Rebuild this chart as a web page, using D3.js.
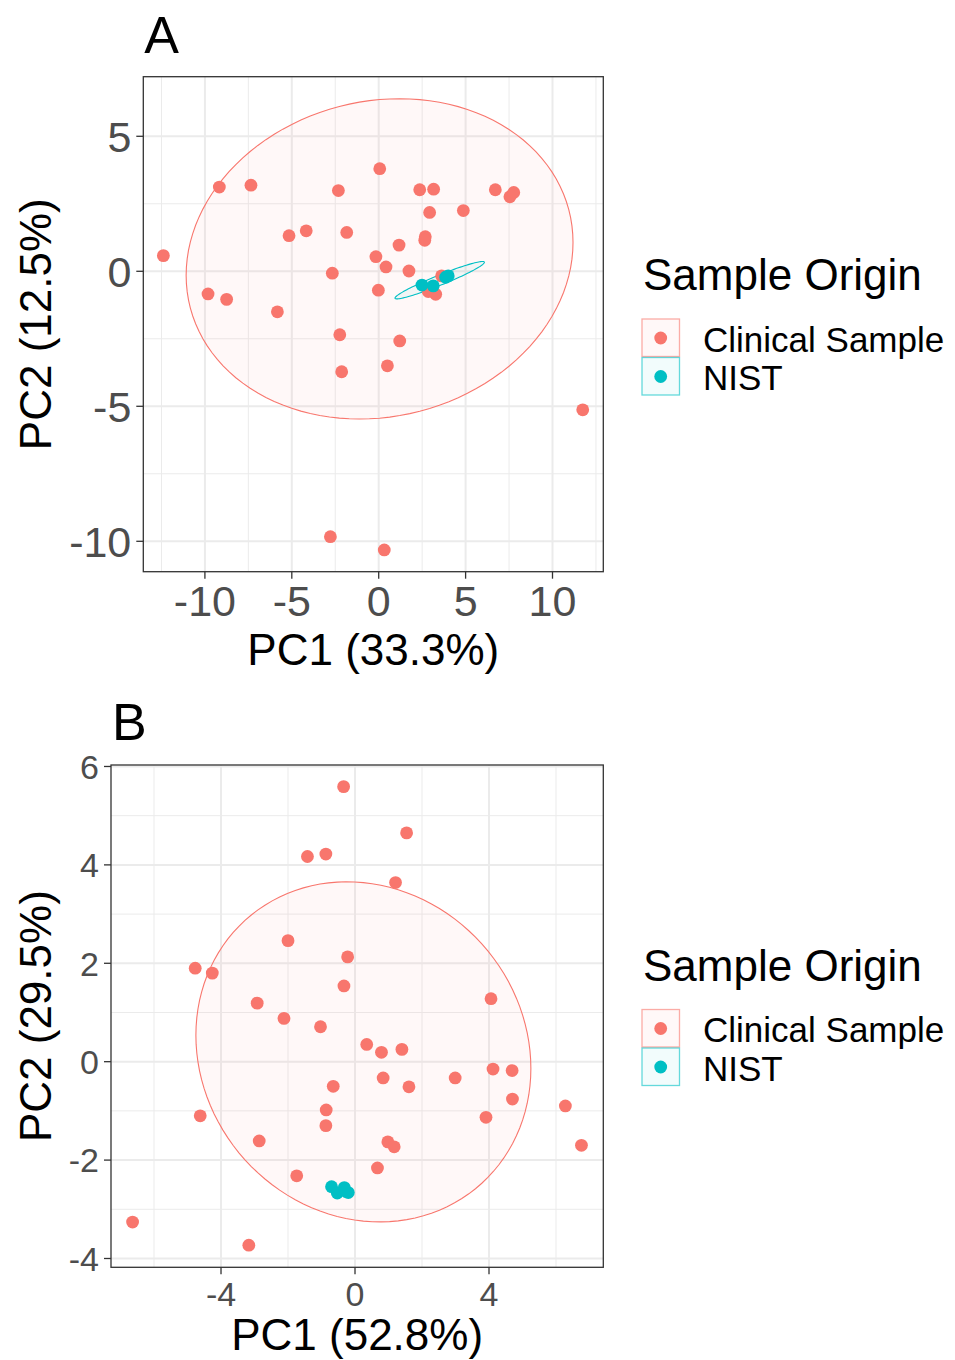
<!DOCTYPE html>
<html>
<head>
<meta charset="utf-8">
<script src="https://cdn.jsdelivr.net/npm/d3@7"></script>
<style>
  body { margin: 0; background: #fff; }
  text { font-family: "Liberation Sans", Arial, sans-serif; }
</style>
</head>
<body>
<svg id="chart" width="955" height="1360"></svg>
<script>
// ---- data ----
const groups = ["Clinical Sample", "NIST"];
const groupColors = ["#F8766D", "#00BFC4"];

// panel A
const aClinicalPC1 = [-12.39, -9.17, -7.35, 0.06, -2.32, 2.36, 3.16, 6.71, 7.55, 7.77, 2.93, 4.87,
    -5.16, -4.17, -1.84, 2.68, 2.65, 1.17, -0.16, 0.42, 1.74, -2.67, -0.02, -9.82, -8.75, -5.83,
    2.85, 3.28, 3.62, -2.24, 1.21, -2.13, 0.50, 11.74, -2.78, 0.32];
const aClinicalPC2 = [0.58, 3.12, 3.19, 3.80, 2.99, 3.02, 3.04, 3.02, 2.76, 2.92, 2.18, 2.25,
    1.32, 1.50, 1.44, 1.28, 1.15, 0.97, 0.54, 0.16, 0.01, -0.07, -0.70, -0.84, -1.04, -1.50,
    -0.75, -0.85, -0.17, -2.35, -2.58, -3.72, -3.50, -5.13, -9.83, -10.32];
const aNistPC1 = [2.49, 3.14, 3.85, 4.00];
const aNistPC2 = [-0.51, -0.54, -0.22, -0.17];
// ellipse: centre x, centre y, axis1 (dx, dy), axis2 (dx, dy)
const aClinicalEllipse = [0.05, 0.46, 11.13, 0.61, 0, 5.90];
const aNistEllipse = [3.51, -0.33, 2.57, 0.67, 0.108, -0.172];

// panel B
const bClinicalPC1 = [-0.34, 1.54, -1.42, -0.87, 1.21, -2.0, -0.22, -4.77, -4.26, -0.33, 4.06, -2.92,
    -2.12, -1.03, 0.35, 0.79, 1.40, 0.84, 1.61, 2.99, 4.12, 4.69, 4.70, -0.65, -0.86, -0.87,
    -4.62, -2.86, 0.98, 1.17, 3.91, 6.28, 6.76, 0.67, -1.74, -6.64, -3.17];
const bClinicalPC2 = [5.59, 4.65, 4.17, 4.22, 3.64, 2.46, 2.13, 1.90, 1.80, 1.54, 1.28, 1.19,
    0.88, 0.71, 0.35, 0.19, 0.25, -0.33, -0.51, -0.33, -0.15, -0.18, -0.76, -0.50, -0.98, -1.30,
    -1.10, -1.61, -1.63, -1.73, -1.13, -0.90, -1.70, -2.16, -2.32, -3.26, -3.73];
const bNistPC1 = [-0.70, -0.53, -0.32, -0.20, -0.27];
const bNistPC2 = [-2.54, -2.67, -2.56, -2.66, -2.64];
const bClinicalEllipse = [0.25, 0.20, 5.0, -0.337, 0, 3.44];

// axis ticks
const aXTicks = [-10, -5, 0, 5, 10];
const aXMinor = [-12.5, -7.5, -2.5, 2.5, 7.5, 12.5];
const aYTicks = [5, 0, -5, -10];
const aYMinor = [2.5, -2.5, -7.5];
const bXTicks = [-4, 0, 4];
const bXMinor = [-6, -2, 2, 6];
const bYTicks = [6, 4, 2, 0, -2, -4];
const bYMinor = [5, 3, 1, -1, -3];

const svg = d3.select("#chart");

function ellipsePoints(e) {
    const pts = [];
    for (let i = 0; i < 120; i++) {
        const t = i / 120 * 2 * Math.PI;
        pts.push([e[0] + e[2] * Math.cos(t) + e[4] * Math.sin(t),
                  e[1] + e[3] * Math.cos(t) + e[5] * Math.sin(t)]);
    }
    return pts;
}

function drawPanel(cfg) {
    const g = svg.append("g");
    const x = d3.scaleLinear().domain(cfg.xDomain).range([cfg.left, cfg.right]);
    const y = d3.scaleLinear().domain(cfg.yDomain).range([cfg.bottom, cfg.top]);

    // grid
    g.selectAll(".xminor").data(cfg.xMinor).join("line")
        .attr("x1", d => x(d)).attr("x2", d => x(d))
        .attr("y1", cfg.top).attr("y2", cfg.bottom)
        .attr("stroke", "#EBEBEB").attr("stroke-width", 1);
    g.selectAll(".yminor").data(cfg.yMinor).join("line")
        .attr("y1", d => y(d)).attr("y2", d => y(d))
        .attr("x1", cfg.left).attr("x2", cfg.right)
        .attr("stroke", "#EBEBEB").attr("stroke-width", 1);
    g.selectAll(".xmajor").data(cfg.xTicks).join("line")
        .attr("x1", d => x(d)).attr("x2", d => x(d))
        .attr("y1", cfg.top).attr("y2", cfg.bottom)
        .attr("stroke", "#EBEBEB").attr("stroke-width", 2);
    g.selectAll(".ymajor").data(cfg.yTicks).join("line")
        .attr("y1", d => y(d)).attr("y2", d => y(d))
        .attr("x1", cfg.left).attr("x2", cfg.right)
        .attr("stroke", "#EBEBEB").attr("stroke-width", 2);

    // ellipses
    const line = d3.line().x(d => x(d[0])).y(d => y(d[1])).curve(d3.curveLinearClosed);
    cfg.ellipses.forEach(el => {
        g.append("path")
            .attr("d", line(ellipsePoints(el.e)))
            .attr("fill", groupColors[el.group])
            .attr("fill-opacity", 0.05)
            .attr("stroke", groupColors[el.group])
            .attr("stroke-width", 1.1);
    });

    // points
    cfg.series.forEach(s => {
        g.selectAll(null).data(d3.zip(s.px, s.py)).join("circle")
            .attr("cx", d => x(d[0])).attr("cy", d => y(d[1]))
            .attr("r", 6.4)
            .attr("fill", groupColors[s.group]);
    });

    // panel border
    g.append("rect")
        .attr("x", cfg.left).attr("y", cfg.top)
        .attr("width", cfg.right - cfg.left).attr("height", cfg.bottom - cfg.top)
        .attr("fill", "none").attr("stroke", "#333333").attr("stroke-width", 1.3);

    // axes
    g.selectAll(".xtick").data(cfg.xTicks).join("line")
        .attr("x1", d => x(d)).attr("x2", d => x(d))
        .attr("y1", cfg.bottom).attr("y2", cfg.bottom + 7)
        .attr("stroke", "#333333").attr("stroke-width", 1.3);
    g.selectAll(".ytick").data(cfg.yTicks).join("line")
        .attr("y1", d => y(d)).attr("y2", d => y(d))
        .attr("x1", cfg.left - 7).attr("x2", cfg.left)
        .attr("stroke", "#333333").attr("stroke-width", 1.3);
    g.selectAll(".xlab").data(cfg.xTicks).join("text")
        .attr("x", d => x(d)).attr("y", cfg.xLabBase)
        .attr("text-anchor", "middle")
        .attr("font-size", cfg.tickSize).attr("fill", "#4D4D4D")
        .text(d => String(d));
    g.selectAll(".ylab").data(cfg.yTicks).join("text")
        .attr("x", cfg.left - 12).attr("y", d => y(d))
        .attr("dy", "0.36em")
        .attr("text-anchor", "end")
        .attr("font-size", cfg.tickSize).attr("fill", "#4D4D4D")
        .text(d => String(d));

    // titles
    g.append("text")
        .attr("x", (cfg.left + cfg.right) / 2).attr("y", cfg.xTitleBase)
        .attr("text-anchor", "middle").attr("font-size", 44)
        .text(cfg.xTitle);
    g.append("text")
        .attr("transform", `translate(51,${(cfg.top + cfg.bottom) / 2}) rotate(-90)`)
        .attr("text-anchor", "middle").attr("font-size", 44)
        .text(cfg.yTitle);
    g.append("text")
        .attr("x", cfg.left + 1).attr("y", cfg.tagBase)
        .attr("font-size", 52)
        .text(cfg.tag);

    // legend
    const lg = svg.append("g").attr("transform", `translate(0,${cfg.legendShift})`);
    lg.append("text").attr("x", 643).attr("y", 290)
        .attr("font-size", 44).text("Sample Origin");
    groups.forEach((name, i) => {
        const ky = 319 + i * 38.5;
        lg.append("rect")
            .attr("x", 642).attr("y", ky).attr("width", 37.5).attr("height", 37.5)
            .attr("fill", groupColors[i]).attr("fill-opacity", 0.05)
            .attr("stroke", groupColors[i]).attr("stroke-opacity", 0.6).attr("stroke-width", 1.3);
        lg.append("circle")
            .attr("cx", 660.7).attr("cy", ky + 19).attr("r", 6.4)
            .attr("fill", groupColors[i]);
        lg.append("text")
            .attr("x", 703).attr("y", ky + 32.5)
            .attr("font-size", 35).text(name);
    });
}

drawPanel({
    tag: "A", tagBase: 53,
    left: 143.3, right: 603.3, top: 76.7, bottom: 571.7,
    xDomain: [-13.545, 12.923], yDomain: [-11.126, 7.207],
    xTicks: aXTicks, xMinor: aXMinor, yTicks: aYTicks, yMinor: aYMinor,
    tickSize: 43, xLabBase: 616, xTitleBase: 665,
    xTitle: "PC1 (33.3%)", yTitle: "PC2 (12.5%)",
    ellipses: [{ e: aClinicalEllipse, group: 0 }, { e: aNistEllipse, group: 1 }],
    series: [{ px: aClinicalPC1, py: aClinicalPC2, group: 0 }, { px: aNistPC1, py: aNistPC2, group: 1 }],
    legendShift: 0
});

drawPanel({
    tag: "B", tagBase: 740,
    left: 111, right: 603.3, top: 765, bottom: 1267.3,
    xDomain: [-7.284, 7.412], yDomain: [-4.179, 6.030],
    xTicks: bXTicks, xMinor: bXMinor, yTicks: bYTicks, yMinor: bYMinor,
    tickSize: 34, xLabBase: 1306, xTitleBase: 1350,
    xTitle: "PC1 (52.8%)", yTitle: "PC2 (29.5%)",
    ellipses: [{ e: bClinicalEllipse, group: 0 }],
    series: [{ px: bClinicalPC1, py: bClinicalPC2, group: 0 }, { px: bNistPC1, py: bNistPC2, group: 1 }],
    legendShift: 690.5
});
</script>
</body>
</html>
